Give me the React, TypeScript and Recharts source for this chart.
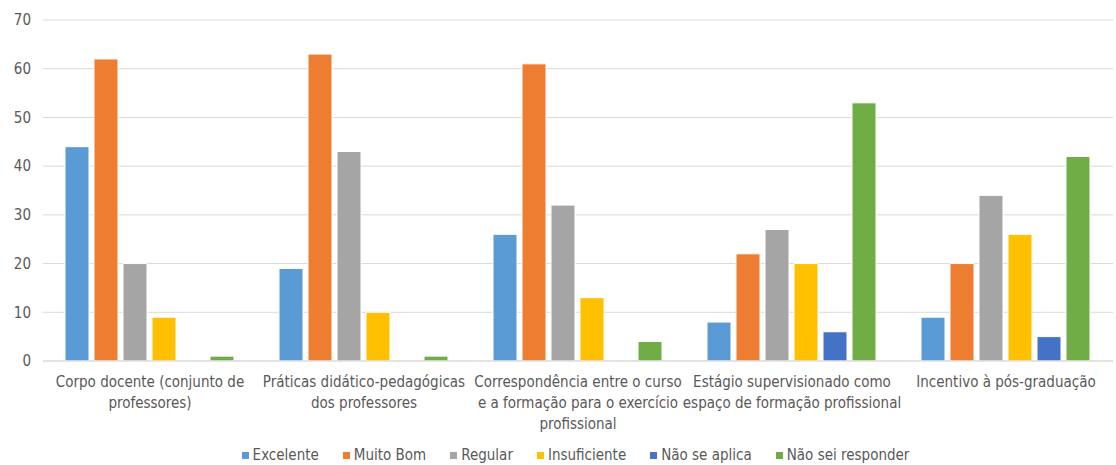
import React from "react";
import { Bar, BarChart, CartesianGrid, Legend, XAxis, YAxis } from "recharts";

const CATEGORIES = [
  "Corpo docente (conjunto de\nprofessores)",
  "Práticas didático-pedagógicas\ndos professores",
  "Correspondência entre o curso\ne a formação para o exercício\nprofissional",
  "Estágio supervisionado como\nespaço de formação profissional",
  "Incentivo à pós-graduação",
];

const EXCELENTE = [44, 19, 26, 8, 9];
const MUITO_BOM = [62, 63, 61, 22, 20];
const REGULAR = [20, 43, 32, 27, 34];
const INSUFICIENTE = [9, 10, 13, 20, 26];
const NAO_SE_APLICA = [null, null, null, 6, 5];
const NAO_SEI = [1, 1, 4, 53, 42];

const Y_TICKS = [0, 10, 20, 30, 40, 50, 60, 70];

const SERIES = [
  { key: "Excelente", values: EXCELENTE, color: "#5B9BD5" },
  { key: "Muito Bom", values: MUITO_BOM, color: "#ED7D31" },
  { key: "Regular", values: REGULAR, color: "#A5A5A5" },
  { key: "Insuficiente", values: INSUFICIENTE, color: "#FFC000" },
  { key: "Não se aplica", values: NAO_SE_APLICA, color: "#4472C4" },
  { key: "Não sei responder", values: NAO_SEI, color: "#70AD47" },
];

const FONT = "'Liberation Sans Narrow', 'DejaVu Sans Condensed', sans-serif";
const TEXT = "#595959";

const data = CATEGORIES.map((name, i) => {
  const row: Record<string, string | number | null> = { name };
  SERIES.forEach((s) => (row[s.key] = s.values[i]));
  return row;
});

function CategoryTick({ x, y, payload }: any) {
  const lines = String(payload.value).split("\n");
  return (
    <text x={x} y={y} textAnchor="middle" fill={TEXT} fontSize={15} fontFamily={FONT}>
      {lines.map((line, i) => (
        <tspan key={i} x={x} dy={i === 0 ? 18 : 21}>
          {line}
        </tspan>
      ))}
    </text>
  );
}

function LegendContent() {
  return (
    <div
      style={{
        display: "flex",
        justifyContent: "center",
        gap: 24,
        height: 20,
        lineHeight: "20px",
        fontFamily: FONT,
        fontSize: 15,
        color: TEXT,
        paddingLeft: 38,
      }}
    >
      {SERIES.map((s) => (
        <div key={s.key} style={{ display: "flex", alignItems: "center" }}>
          <span style={{ width: 7, height: 7, background: s.color, marginRight: 4, display: "inline-block" }} />
          <span>{s.key}</span>
        </div>
      ))}
    </div>
  );
}

export default function App() {
  return (
    <div style={{ position: "absolute", left: 0, top: 0, background: "#fff" }}>
      <BarChart
        width={1116}
        height={465}
        data={data}
        margin={{ top: 20, right: 3, left: 0, bottom: 0 }}
        barCategoryGap={22}
        barGap={5}
      >
        <CartesianGrid vertical={false} stroke="#d9d9d9" />
        <XAxis
          dataKey="name"
          interval={0}
          tickLine={false}
          axisLine={{ stroke: "#d9d9d9" }}
          height={84}
          tick={<CategoryTick />}
        />
        <YAxis
          domain={[0, 70]}
          ticks={Y_TICKS}
          width={43}
          axisLine={false}
          tickLine={false}
          tickMargin={6}
          tick={{ fill: TEXT, fontSize: 15, fontFamily: FONT }}
        />
        <Legend verticalAlign="bottom" height={20} wrapperStyle={{ bottom: 0 }} content={<LegendContent />} />
        {SERIES.map((s) => (
          <Bar
            key={s.key}
            dataKey={s.key}
            fill={s.color}
            stroke="#fff"
            strokeWidth={1}
            isAnimationActive={false}
          />
        ))}
      </BarChart>
    </div>
  );
}
